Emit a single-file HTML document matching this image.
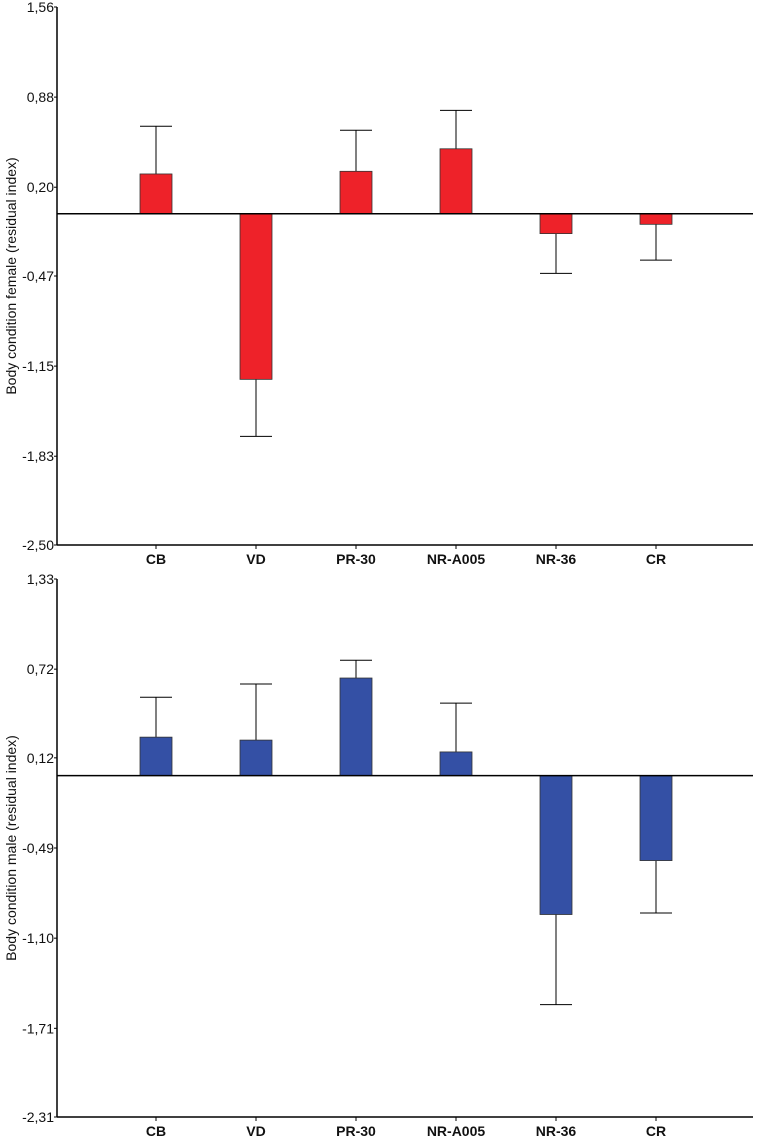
<!DOCTYPE html>
<html><head><meta charset="utf-8"><style>
html,body{margin:0;padding:0;background:#fff;}
svg{display:block;font-family:"Liberation Sans",Arial,sans-serif;}
</style></head><body>
<svg id="svg" width="760" height="1139" viewBox="0 0 760 1139" xmlns="http://www.w3.org/2000/svg"></svg>
<script>
const categories = ["CB","VD","PR-30","NR-A005","NR-36","CR"];
const femaleValues = [0.30,-1.25,0.32,0.49,-0.15,-0.08];
const femaleErrors = [0.66,-1.68,0.63,0.78,-0.45,-0.35];
const femaleTicks = ["1,56","0,88","0,20","-0,47","-1,15","-1,83","-2,50"];
const femaleTickValues = [1.56,0.88,0.20,-0.47,-1.15,-1.83,-2.50];
const maleValues = [0.26,0.24,0.66,0.16,-0.94,-0.575];
const maleErrors = [0.53,0.62,0.78,0.49,-1.55,-0.93];
const maleTicks = ["1,33","0,72","0,12","-0,49","-1,10","-1,71","-2,31"];
const maleTickValues = [1.33,0.72,0.12,-0.49,-1.10,-1.71,-2.31];

const svg = document.getElementById('svg');
const NS = "http://www.w3.org/2000/svg";
function mk(tag, attrs, parent){
  const e = document.createElementNS(NS, tag);
  for (const k in attrs) e.setAttribute(k, attrs[k]);
  (parent||svg).appendChild(e);
  return e;
}
function drawChart(prefix, top, bottom, vmax, vmin, vals, errs, ticks, tickVals, color, title){
  const g = mk('g', {});
  
  
  const x0 = 57, x1 = 753;
  const y = v => top + (vmax - v) / (vmax - vmin) * (bottom - top);
  const xc = i => 156 + i * 100;
  const bw = 32;
  vals.forEach((v, i) => {
    const e = errs[i];
    const ln = mk('line', {x1: xc(i), x2: xc(i), y1: y(v), y2: y(e), stroke: '#000', 'stroke-width': 1}, g);
    
    
    const cap = mk('line', {x1: xc(i) - 16, x2: xc(i) + 16, y1: y(e), y2: y(e), stroke: '#000', 'stroke-width': 1}, g);
    
    
    const r = mk('rect', {x: xc(i) - bw/2, y: Math.min(y(v), y(0)), width: bw, height: Math.abs(y(v) - y(0)), fill: color, stroke: '#333', 'stroke-width': 0.8}, g);
    
    
  });
  const z = mk('line', {x1: x0, x2: x1, y1: y(0), y2: y(0), stroke: '#000', 'stroke-width': 1.5}, g);
  
  
  const ya = mk('line', {x1: x0, x2: x0, y1: top, y2: bottom, stroke: '#000', 'stroke-width': 1.5}, g);
  
  
  const xa = mk('line', {x1: x0, x2: x1, y1: bottom, y2: bottom, stroke: '#000', 'stroke-width': 1.5}, g);
  
  
  tickVals.forEach((tv, i) => {
    const t = mk('line', {x1: x0 - 3, x2: x0, y1: y(tv), y2: y(tv), stroke: '#000'}, g);
    
    
    const tx = mk('text', {x: x0 - 3, y: y(tv) + 5, 'text-anchor': 'end', 'font-size': 14, fill: '#111'}, g);
    tx.textContent = ticks[i];
    
    
  });
  categories.forEach((c, i) => {
    const t = mk('line', {x1: xc(i), x2: xc(i), y1: bottom, y2: bottom + 4, stroke: '#000'}, g);
    
    
    const tx = mk('text', {x: xc(i), y: bottom + 19, 'text-anchor': 'middle', 'font-size': 14, 'font-weight': 'bold', fill: '#111'}, g);
    tx.textContent = c;
    
    
  });
  const cy = (top + bottom) / 2;
  const tt = mk('text', {x: 0, y: 0, transform: 'translate(16,' + cy + ') rotate(-90)', 'text-anchor': 'middle', 'font-size': 14, fill: '#111'}, g);
  tt.textContent = title;
  
  
}
drawChart('female', 7, 545, 1.56, -2.50, femaleValues, femaleErrors, femaleTicks, femaleTickValues, '#ee2229', 'Body condition female (residual index)');
drawChart('male', 579, 1117, 1.33, -2.31, maleValues, maleErrors, maleTicks, maleTickValues, '#3450a5', 'Body condition male (residual index)');
</script>
</body></html>
